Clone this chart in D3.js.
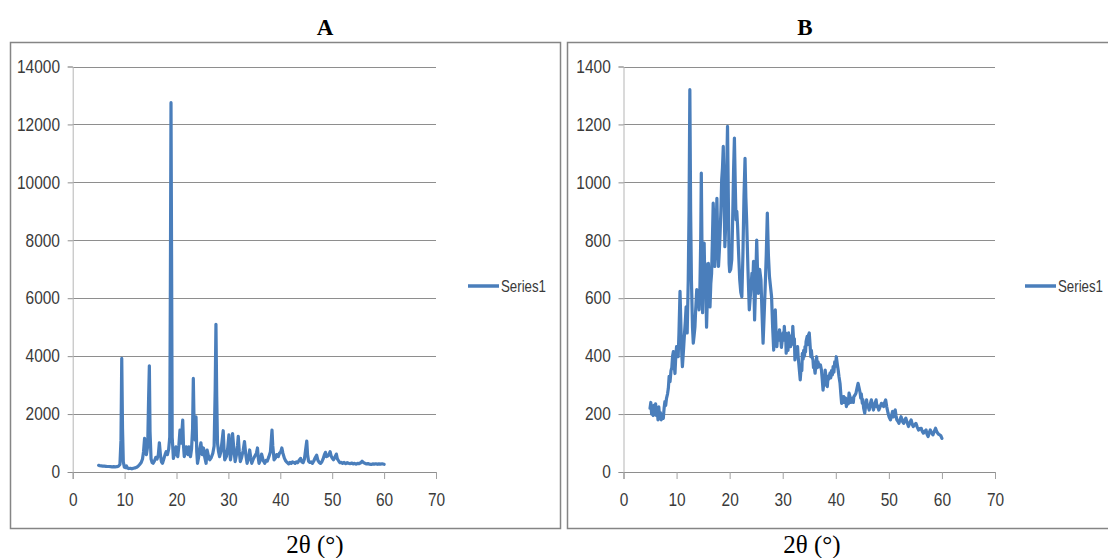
<!DOCTYPE html>
<html>
<head>
<meta charset="utf-8">
<script src="https://cdn.jsdelivr.net/npm/d3@7"></script>
<style>
  html, body { margin: 0; padding: 0; background: #fff; }
  svg { display: block; }
  .tick text { font-family: "Liberation Sans Narrow", "Liberation Sans", Arial, sans-serif; font-size: 18px; fill: #3a3a3a; }
</style>
</head>
<body>
<svg id="chart" width="1108" height="558"></svg>
<script>
// XRD pattern, panel A: [2θ (°), intensity]
const patternA = [
  [5.0,230],[5.2,215],[5.5,210],[5.8,205],[6.1,200],[6.4,195],[6.7,190],[7.0,190],[7.3,185],[7.6,180],
  [7.9,185],[8.2,180],[8.5,184],[8.8,200],[9.1,260],[9.3,1100],[9.45,3920],[9.6,1500],[9.75,350],[9.95,170],
  [10.15,150],[10.35,210],[10.55,140],[10.8,120],[11.1,130],[11.4,110],[11.7,130],[12.0,140],[12.3,160],[12.6,200],
  [12.9,260],[13.2,330],[13.45,450],[13.65,700],[13.85,1160],[14.0,800],[14.2,600],[14.45,900],[14.62,2500],[14.77,3667],
  [14.9,1400],[15.1,450],[15.3,330],[15.5,300],[15.75,380],[16.0,500],[16.25,450],[16.5,600],[16.7,1010],[16.9,600],
  [17.1,350],[17.3,300],[17.55,450],[17.8,600],[18.0,700],[18.25,600],[18.5,800],[18.7,1200],[18.82,6500],[18.94,12750],
  [19.05,7500],[19.17,1200],[19.4,470],[19.65,650],[19.9,870],[20.1,600],[20.25,530],[20.45,900],[20.67,1450],[20.85,1000],
  [21.0,1300],[21.2,1790],[21.35,900],[21.5,530],[21.7,650],[21.9,870],[22.1,700],[22.25,600],[22.4,870],[22.55,700],
  [22.7,530],[22.9,800],[23.1,1500],[23.24,3230],[23.4,1500],[23.6,1100],[23.76,1900],[23.9,700],[24.05,300],[24.25,500],
  [24.5,800],[24.7,1010],[24.95,600],[25.2,830],[25.45,500],[25.7,300],[25.9,760],[26.15,550],[26.4,420],[26.7,500],
  [27.0,650],[27.25,900],[27.45,2800],[27.6,5100],[27.75,2600],[27.9,1000],[28.1,700],[28.3,530],[28.55,700],[28.8,1100],
  [29.0,1425],[29.15,800],[29.3,420],[29.6,530],[29.85,800],[30.1,1280],[30.25,700],[30.4,420],[30.6,700],[30.8,1330],
  [31.0,900],[31.3,360],[31.55,600],[31.75,900],[31.9,1230],[32.1,700],[32.3,360],[32.55,500],[32.85,750],[33.1,1050],
  [33.35,600],[33.6,300],[33.85,450],[34.1,760],[34.3,500],[34.5,300],[34.8,450],[35.1,550],[35.4,650],[35.6,830],
  [35.75,500],[35.9,300],[36.15,400],[36.4,620],[36.7,400],[37.0,300],[37.25,400],[37.5,380],[37.8,530],[38.1,700],
  [38.3,1200],[38.4,1450],[38.55,900],[38.8,420],[39.05,480],[39.3,600],[39.6,530],[39.85,650],[40.1,700],[40.3,830],
  [40.5,650],[40.8,470],[41.05,380],[41.3,330],[41.6,280],[41.85,330],[42.1,300],[42.35,350],[42.6,330],[42.85,300],
  [43.1,350],[43.35,320],[43.6,400],[43.9,470],[44.15,350],[44.4,320],[44.65,450],[44.9,800],[45.1,1070],[45.25,600],
  [45.45,370],[45.7,330],[45.95,350],[46.2,300],[46.45,380],[46.75,500],[47.0,580],[47.25,400],[47.5,330],[47.75,300],
  [48.0,350],[48.25,450],[48.5,600],[48.7,680],[48.9,530],[49.1,550],[49.35,600],[49.6,700],[49.8,550],[50.0,480],
  [50.25,420],[50.5,500],[50.8,620],[51.0,450],[51.25,380],[51.5,320],[51.75,330],[52.0,300],[52.3,330],[52.6,290],
  [52.9,320],[53.2,300],[53.5,290],[53.8,310],[54.0,280],[54.3,300],[54.6,270],[54.9,300],[55.2,290],[55.5,320],
  [55.75,370],[56.0,330],[56.3,300],[56.6,280],[56.9,290],[57.2,270],[57.5,260],[57.8,280],[58.1,270],[58.4,285],
  [58.7,265],[59.0,280],[59.3,270],[59.6,285],[60.0,265]
];

// XRD pattern, panel B: [2θ (°), intensity]
const patternB = [
  [5.0,220],[5.15,240],[5.3,200],[5.45,225],[5.6,195],[5.75,230],[5.9,210],[6.05,235],[6.2,195],[6.35,215],
  [6.5,180],[6.65,225],[6.8,190],[6.95,205],[7.1,180],[7.3,195],[7.5,185],[7.65,220],[7.8,243],[7.95,230],
  [8.1,254],[8.3,270],[8.45,289],[8.6,330],[8.77,312],[8.95,350],[9.1,360],[9.25,400],[9.4,416],[9.55,370],
  [9.7,340],[9.85,400],[10.0,433],[10.15,420],[10.3,398],[10.45,480],[10.65,624],[10.85,480],[11.0,400],[11.1,364],
  [11.3,420],[11.5,480],[11.65,520],[11.8,570],[11.9,520],[12.0,480],[12.2,663],[12.35,900],[12.5,1320],[12.65,900],
  [12.8,663],[13.0,500],[13.15,445],[13.3,470],[13.46,500],[13.6,560],[13.8,630],[13.95,600],[14.1,605],[14.25,560],
  [14.4,640],[14.55,800],[14.66,1032],[14.8,750],[14.9,550],[15.05,700],[15.2,790],[15.3,680],[15.4,720],[15.55,600],
  [15.65,500],[15.8,600],[16.0,720],[16.15,650],[16.3,570],[16.45,650],[16.6,686],[16.75,800],[16.9,928],[17.05,850],
  [17.2,710],[17.4,800],[17.6,945],[17.75,800],[17.9,710],[18.05,760],[18.2,825],[18.35,900],[18.5,1009],[18.65,1050],
  [18.8,1124],[18.95,950],[19.1,778],[19.25,850],[19.4,1000],[19.6,1193],[19.75,950],[19.9,720],[20.0,692],[20.2,700],
  [20.4,733],[20.6,900],[20.75,1050],[20.9,1153],[21.05,1000],[21.2,871],[21.35,900],[21.5,848],[21.7,750],[21.9,663],
  [22.1,620],[22.3,605],[22.5,750],[22.7,950],[22.9,1083],[23.05,950],[23.2,871],[23.45,700],[23.7,560],[23.95,620],
  [24.2,686],[24.35,650],[24.5,727],[24.6,620],[24.7,525],[24.9,650],[25.1,801],[25.25,700],[25.4,617],[25.65,700],
  [25.9,663],[26.1,550],[26.3,445],[26.5,540],[26.7,640],[26.9,750],[27.1,894],[27.3,750],[27.5,675],[27.7,640],
  [27.9,605],[28.1,500],[28.3,421],[28.45,500],[28.6,560],[28.75,480],[28.9,433],[29.05,480],[29.15,455],[29.4,491],
  [29.5,455],[29.6,470],[29.75,430],[29.85,445],[30.05,480],[30.2,455],[30.3,503],[30.45,460],[30.55,480],[30.65,410],
  [30.85,450],[31.0,420],[31.1,480],[31.3,450],[31.4,470],[31.5,433],[31.7,470],[31.8,445],[31.9,503],[32.1,440],
  [32.2,460],[32.3,387],[32.45,420],[32.55,410],[32.8,433],[32.9,400],[33.05,370],[33.3,318],[33.5,370],[33.6,350],
  [33.7,410],[33.85,390],[33.95,420],[34.1,400],[34.2,433],[34.3,415],[34.4,450],[34.6,468],[34.7,440],[34.8,470],
  [35.0,480],[35.15,440],[35.3,398],[35.4,420],[35.5,400],[35.7,387],[35.8,360],[35.9,370],[36.1,341],[36.25,370],
  [36.4,398],[36.5,360],[36.65,380],[36.9,364],[37.1,370],[37.3,352],[37.45,320],[37.6,283],[37.8,320],[37.9,300],
  [38.0,352],[38.2,320],[38.4,295],[38.55,330],[38.65,320],[38.9,341],[39.05,325],[39.2,350],[39.35,335],[39.5,364],
  [39.65,345],[39.8,380],[39.95,365],[40.1,398],[40.3,370],[40.45,352],[40.6,330],[40.8,306],[40.95,270],[41.1,237],
  [41.3,255],[41.4,240],[41.5,260],[41.75,240],[41.85,255],[42.0,226],[42.25,250],[42.35,235],[42.5,272],[42.75,255],
  [42.85,240],[43.0,249],[43.2,255],[43.3,240],[43.4,260],[43.6,265],[43.8,272],[44.0,290],[44.2,306],[44.4,290],
  [44.6,272],[44.7,255],[44.8,270],[45.0,237],[45.1,250],[45.25,220],[45.45,203],[45.6,225],[45.8,249],[45.95,225],
  [46.05,230],[46.3,214],[46.5,235],[46.7,249],[46.9,230],[47.1,214],[47.35,235],[47.6,249],[47.75,225],[47.85,230],
  [48.1,214],[48.35,225],[48.6,237],[48.8,230],[49.0,226],[49.2,240],[49.4,249],[49.6,225],[49.85,203],[50.05,190],
  [50.3,180],[50.5,195],[50.7,209],[50.85,190],[50.95,205],[51.2,214],[51.35,195],[51.5,180],[51.7,175],[51.9,168],
  [52.1,180],[52.3,191],[52.55,175],[52.8,168],[53.0,180],[53.2,186],[53.45,170],[53.7,157],[53.95,170],[54.2,180],
  [54.4,165],[54.6,157],[54.85,163],[55.1,168],[55.35,155],[55.6,145],[55.85,150],[56.1,151],[56.3,140],[56.5,134],
  [56.75,140],[57.0,145],[57.2,130],[57.4,122],[57.6,135],[57.8,145],[58.05,135],[58.3,128],[58.55,140],[58.8,151],
  [59.0,140],[59.2,134],[59.4,130],[59.6,128],[59.8,125],[60.0,116]
];

const xTicks = [0, 10, 20, 30, 40, 50, 60, 70];
const yTicksA = [0, 2000, 4000, 6000, 8000, 10000, 12000, 14000];
const yTicksB = [0, 200, 400, 600, 800, 1000, 1200, 1400];
const panelTitles = ["A", "B"];
const seriesName = "Series1";
const xAxisTitle = "2θ (°)";

const svg = d3.select("#chart");
const lineColor = "#4a7ebb";
const gridColor = "#8e8e8e";
const squeeze = 0.86; // condensed look for the axis numerals

const panels = [
  { title: panelTitles[0], data: patternA, yTicks: yTicksA, box: [10.5, 42.5, 550, 486],
    xr: [72.7, 436], yr: [472, 66.5], legendX: 468, titleX: 325, labelX: 315 },
  { title: panelTitles[1], data: patternB, yTicks: yTicksB, box: [567.5, 42.5, 560, 486],
    xr: [623.5, 995], yr: [472, 66.5], legendX: 1025, titleX: 805, labelX: 812 }
];

panels.forEach(p => {
  const g = svg.append("g");

  // chart frame
  g.append("rect")
    .attr("x", p.box[0]).attr("y", p.box[1])
    .attr("width", p.box[2]).attr("height", p.box[3])
    .attr("fill", "none").attr("stroke", "#858585").attr("stroke-width", 1.5);

  const x = d3.scaleLinear().domain([0, 70]).range(p.xr);
  const y = d3.scaleLinear().domain([0, d3.max(p.yTicks)]).range(p.yr);

  // horizontal gridlines
  g.append("g").selectAll("line").data(p.yTicks.slice(1)).join("line")
    .attr("x1", p.xr[0]).attr("x2", p.xr[1])
    .attr("y1", d => Math.round(y(d)) + 0.5).attr("y2", d => Math.round(y(d)) + 0.5)
    .attr("stroke", gridColor).attr("stroke-width", 1);

  // y axis
  const yAxis = g.append("g")
    .attr("transform", `translate(${p.xr[0]},0)`)
    .call(d3.axisLeft(y).tickValues(p.yTicks).tickFormat(d3.format("d")).tickSize(5).tickPadding(9.8));
  yAxis.select(".domain").attr("stroke", "#b5b5b5");
  yAxis.selectAll(".tick line").attr("stroke", gridColor);
  yAxis.selectAll(".tick text").attr("transform", `scale(${squeeze},1)`);

  // x axis
  const xAxis = g.append("g")
    .attr("transform", `translate(0,${p.yr[0]})`)
    .call(d3.axisBottom(x).tickValues(xTicks).tickFormat(d3.format("d")).tickSize(7).tickPadding(14));
  xAxis.select(".domain").attr("stroke", gridColor);
  xAxis.selectAll(".tick line").attr("stroke", "#a0a0a0");
  xAxis.selectAll(".tick text").attr("transform", `scale(${squeeze},1)`);

  // diffraction trace
  g.append("path")
    .datum(p.data)
    .attr("d", d3.line().x(d => x(d[0])).y(d => y(d[1])))
    .attr("fill", "none").attr("stroke", lineColor)
    .attr("stroke-width", 3.2).attr("stroke-linejoin", "round").attr("stroke-linecap", "round");

  // legend
  g.append("line")
    .attr("x1", p.legendX).attr("x2", p.legendX + 31)
    .attr("y1", 286).attr("y2", 286)
    .attr("stroke", lineColor).attr("stroke-width", 3.5);
  g.append("text")
    .attr("x", p.legendX + 33).attr("y", 286).attr("dy", "0.35em")
    .attr("font-family", '"Liberation Sans Narrow", "Liberation Sans", Arial, sans-serif')
    .attr("font-size", 17).attr("fill", "#3a3a3a")
    .attr("textLength", 45).attr("lengthAdjust", "spacingAndGlyphs")
    .text(seriesName);

  // panel title
  svg.append("text")
    .attr("x", p.titleX).attr("y", 35).attr("text-anchor", "middle")
    .attr("font-family", '"Liberation Serif", "Times New Roman", serif')
    .attr("font-weight", "bold").attr("font-size", 23).attr("fill", "#000")
    .text(p.title);

  // x axis title
  svg.append("text")
    .attr("x", p.labelX).attr("y", 553).attr("text-anchor", "middle")
    .attr("font-family", '"Liberation Serif", "Times New Roman", serif')
    .attr("font-size", 25).attr("fill", "#000")
    .text(xAxisTitle);
});
</script>
</body>
</html>
